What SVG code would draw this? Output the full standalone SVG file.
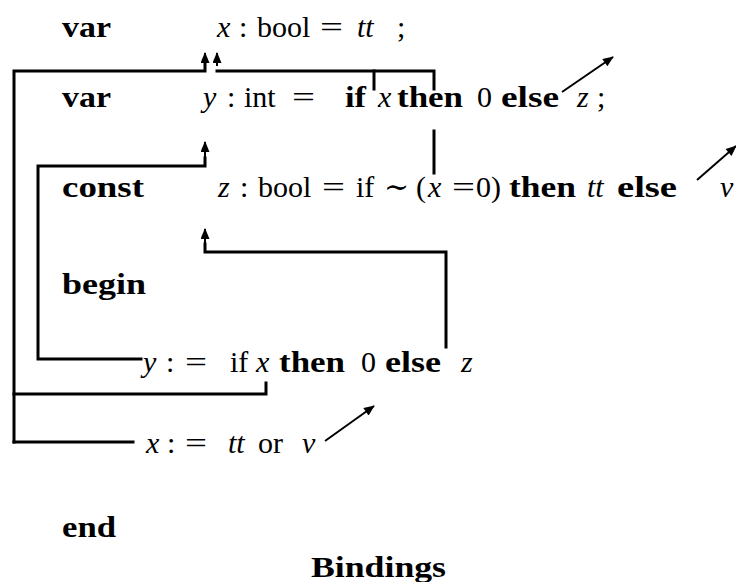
<svg xmlns="http://www.w3.org/2000/svg" width="736" height="582" viewBox="0 0 736 582">
<defs>
<style>
text{font-family:"Liberation Serif","DejaVu Serif",serif;font-size:30px;fill:#000}
.b{font-weight:bold}
.i{font-style:italic}
.c{fill:none;stroke:#000;stroke-width:3;stroke-linecap:square}
.a{fill:none;stroke:#000;stroke-width:2}
</style>
<marker id="ah" viewBox="0 0 12 10" refX="11" refY="5" markerWidth="13" markerHeight="9" markerUnits="userSpaceOnUse" orient="auto"><path d="M0,0 L12,5 L0,10 z" fill="#000"/></marker>
</defs>
<rect width="736" height="582" fill="#fff"/>
<g id="decl-x">
<text x="62" y="37" class="b" textLength="49" lengthAdjust="spacingAndGlyphs">var</text>
<text y="37"><tspan x="217" class="i">x</tspan><tspan x="239">:</tspan><tspan x="257">bool</tspan></text>
<text x="320" y="37" textLength="23" lengthAdjust="spacingAndGlyphs">=</text>
<text y="37"><tspan x="357" class="i">tt</tspan><tspan x="397">;</tspan></text>
</g>
<g id="decl-y">
<text x="62" y="107" class="b" textLength="49" lengthAdjust="spacingAndGlyphs">var</text>
<text y="107"><tspan x="203" class="i">y</tspan><tspan x="227">:</tspan><tspan x="244">int</tspan></text>
<text x="292" y="107" textLength="23" lengthAdjust="spacingAndGlyphs">=</text>
<text x="345" y="107" class="b" textLength="21" lengthAdjust="spacingAndGlyphs">if</text>
<text x="378" y="107" class="i">x</text>
<text x="397" y="107" class="b" textLength="66" lengthAdjust="spacingAndGlyphs">then</text>
<text x="477" y="107">0</text>
<text x="501" y="107" class="b" textLength="58" lengthAdjust="spacingAndGlyphs">else</text>
<text y="107"><tspan x="577" class="i">z</tspan><tspan x="597">;</tspan></text>
</g>
<g id="decl-z">
<text x="62" y="197" class="b" textLength="82" lengthAdjust="spacingAndGlyphs">const</text>
<text y="197"><tspan x="218" class="i">z</tspan><tspan x="240">:</tspan><tspan x="258">bool</tspan></text>
<text x="322" y="197" textLength="23" lengthAdjust="spacingAndGlyphs">=</text>
<text y="197"><tspan x="356">if</tspan><tspan x="384">∼</tspan><tspan x="416">(</tspan><tspan x="428" class="i">x</tspan></text>
<text x="452" y="197" textLength="23" lengthAdjust="spacingAndGlyphs">=</text>
<text y="197"><tspan x="476">0)</tspan></text>
<text x="509" y="197" class="b" textLength="67" lengthAdjust="spacingAndGlyphs">then</text>
<text x="587" y="197" class="i">tt</text>
<text x="617" y="197" class="b" textLength="60" lengthAdjust="spacingAndGlyphs">else</text>
<text x="720" y="197" class="i">v</text>
</g>
<g id="begin"><text x="62" y="294" class="b" textLength="84" lengthAdjust="spacingAndGlyphs">begin</text></g>
<g id="assign-y">
<text y="372"><tspan x="143" class="i">y</tspan><tspan x="166">:</tspan></text>
<text x="185" y="372" textLength="22" lengthAdjust="spacingAndGlyphs">=</text>
<text x="230" y="372">if</text>
<text x="256" y="372" class="i">x</text>
<text x="279" y="372" class="b" textLength="66" lengthAdjust="spacingAndGlyphs">then</text>
<text x="361" y="372">0</text>
<text x="385" y="372" class="b" textLength="56" lengthAdjust="spacingAndGlyphs">else</text>
<text x="461" y="372" class="i">z</text>
</g>
<g id="assign-x">
<text y="453"><tspan x="146" class="i">x</tspan><tspan x="167">:</tspan></text>
<text x="185" y="453" textLength="22" lengthAdjust="spacingAndGlyphs">=</text>
<text y="453"><tspan x="228" class="i">tt</tspan><tspan x="258">or</tspan><tspan x="302" class="i">v</tspan></text>
</g>
<g id="end"><text x="62" y="537" class="b" textLength="54" lengthAdjust="spacingAndGlyphs">end</text></g>
<g id="caption"><text x="311" y="577" class="b" textLength="135" lengthAdjust="spacingAndGlyphs">Bindings</text></g>
<g id="connectors">
<polyline class="c" points="14,442 14,71 205,71 205,64"/>
<path d="M205,66 L205,53" class="a" marker-end="url(#ah)"/>
<polyline class="c" points="217,71 434,71 434,89"/>
<path d="M217,66 L217,53" class="a" marker-end="url(#ah)"/>
<line class="c" x1="374" y1="71" x2="374" y2="89"/>
<line class="c" x1="434" y1="131" x2="434" y2="173"/>
<polyline class="c" points="141,359 38,359 38,166 205,166 205,158"/>
<path d="M205,160 L205,142" class="a" marker-end="url(#ah)"/>
<polyline class="c" points="446,347 446,252 205,252 205,244"/>
<path d="M205,246 L205,229" class="a" marker-end="url(#ah)"/>
<polyline class="c" points="14,394 266,394 266,383"/>
<line class="c" x1="14" y1="442" x2="133" y2="442"/>
<path d="M325,441 L374,406" class="a" marker-end="url(#ah)"/>
<path d="M562,92 L613,57" class="a" marker-end="url(#ah)"/>
<path d="M697,180 L736,146" class="a" marker-end="url(#ah)"/>
</g>
</svg>
